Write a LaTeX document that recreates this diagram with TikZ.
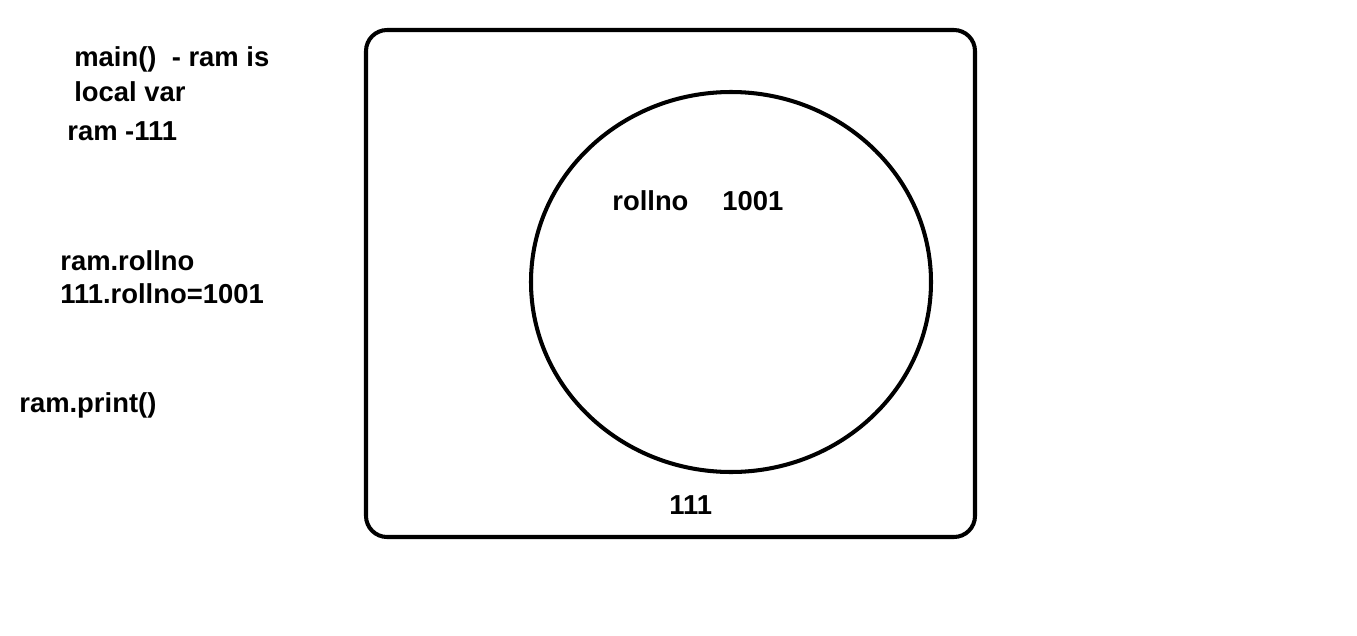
\documentclass[tikz,border=0pt]{standalone}
\usepackage{fontspec}
\setmainfont{Liberation Sans}
\usetikzlibrary{positioning}

\begin{document}
\begin{tikzpicture}[
    x=0.02cm, y=-0.02cm,
    note/.style={anchor=west, inner sep=0pt, font=\fontsize{15.6}{18}\selectfont\bfseries},
    frame/.style={draw=black, line width=2.3pt, rounded corners=12pt},
    obj/.style={draw=black, line width=2.3pt}
]
\useasboundingbox (0,0) rectangle (1357,636);

% notes on the left
\node[note] (mainline) at (74,59) {main()\ \ - ram is};
\node[note] (localvar) at (74,92) {local var};
\node[note] (ramref) at (67,131) {ram -111};
\node[note] (ramroll) at (60,261) {ram.rollno};
\node[note] (assign) at (60,294) {111.rollno=1001};
\node[note] (print) at (19,405) {ram.print()};

% heap box and object
\draw[frame] (366,30) rectangle (975,537);
\draw[obj] (731,282) ellipse [x radius=200, y radius=190];

\node[note] (field) at (612,201) {rollno};
\node[note] (value) at (722,201) {1001};
\node[note] (addr) at (669,505) {111};

\end{tikzpicture}
\end{document}
